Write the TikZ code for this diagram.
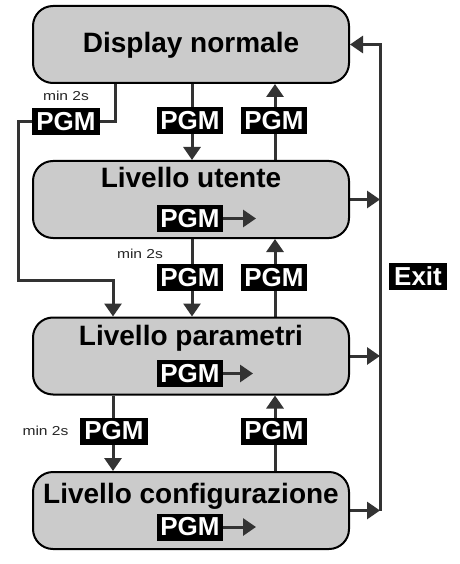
\documentclass[tikz,border=0pt]{standalone}
\usepackage{fontspec}
\setmainfont{Liberation Sans}
\newfontfamily\stretchf[FakeStretch=1.2]{Liberation Sans}
\usetikzlibrary{arrows.meta,backgrounds}
\definecolor{boxgray}{HTML}{CBCBCB}
\definecolor{linegray}{HTML}{333333}
\tikzset{
  statebox/.style={draw=black,line width=2pt,fill=boxgray,rounded corners=20pt,minimum width=316pt,minimum height=77pt,inner sep=0pt},
  title/.style={anchor=base,font=\fontsize{28}{30}\selectfont\bfseries,inner sep=0pt},
  key/.style={fill=black,text=white,font=\fontsize{26}{28}\selectfont\bfseries,inner sep=0pt,minimum width=66pt,minimum height=27pt},
  note/.style={anchor=base,font=\stretchf\fontsize{13}{15}\selectfont,text=black!85,inner sep=0pt},
  conn/.style={draw=linegray,line width=3pt},
  arr/.style={conn,-{Triangle[length=13pt,width=17pt]}},
}
\begin{document}
\begin{tikzpicture}[x=1pt,y=-1pt]
\useasboundingbox (0,0) rectangle (459,564);
% state boxes
\node[statebox] (dn) at (191,44.5) {};
\node[statebox] (lu) at (191,199.5) {};
\node[statebox] (lp) at (191,356) {};
\node[statebox] (lc) at (191,510.5) {};
% titles
\node[title] (tdn) at (191,53) {Display normale};
\node[title] (tlu) at (191,187) {Livello utente};
\node[title] (tlp) at (191,345) {Livello parametri};
\node[title] (tlc) at (191,503) {Livello configurazione};
% PGM keys inside boxes
\node[key] (kulu) at (190,218.5) {PGM};
\node[key] (kulp) at (190,373.5) {PGM};
\node[key] (kulc) at (190,527) {PGM};
% internal arrows
\coordinate (tu) at (256,218.5);
\coordinate (tp) at (253,373.5);
\coordinate (tc) at (256,527);
\draw[arr] (kulu.east) -- (tu);
\draw[arr] (kulp.east) -- (tp);
\draw[arr] (kulc.east) -- (tc);
% external PGM keys
\node[key,minimum width=68pt] (p0) at (66,121.5) {PGM};
\node[key] (p1) at (190,121) {PGM};
\node[key] (p2) at (274,121) {PGM};
\node[key] (p3) at (190,277.5) {PGM};
\node[key] (p4) at (274,277.5) {PGM};
\node[key,minimum width=68pt] (p5) at (114,431) {PGM};
\node[key] (p6) at (274,431) {PGM};
\node[key,minimum width=58pt] (exit) at (418,276) {Exit};
% notes
\node[note] (n0) at (66,101) {min 2s};
\node[note] (n1) at (140,258) {min 2s};
\node[note] (n2) at (45.5,435) {min 2s};
% coordinates
\coordinate (eu) at (380,199.5);
\coordinate (ep) at (380,356);
\coordinate (ec) at (380,510.5);
\coordinate (etop) at (380,44.5);
\coordinate (lturn) at (18,280);
\begin{pgfonlayer}{background}
% long press path to parametri
\draw[conn] (dn.south -| 115,0) |- (p0.east);
\draw[arr] (p0.west) -| (lturn) -| (lp.north -| 113,0);
% between display and utente
\draw[arr] (dn.south -| 192,0) -- (lu.north -| 192,0);
\draw[arr] (lu.north -| 275,0) -- (dn.south -| 275,0);
% between utente and parametri
\draw[arr] (lu.south -| 192,0) -- (lp.north -| 192,0);
\draw[arr] (lp.north -| 275,0) -- (lu.south -| 275,0);
% between parametri and config
\draw[arr] (lp.south -| 113,0) -- (lc.north -| 113,0);
\draw[arr] (lc.north -| 275,0) -- (lp.south -| 275,0);
% exit arrows
\draw[arr] (lu.east) -- (eu);
\draw[arr] (lp.east) -- (ep);
\draw[arr] (lc.east) -- (ec);
\draw[arr] (ec) -- (etop) -- (dn.east);
\end{pgfonlayer}
\end{tikzpicture}
\end{document}
